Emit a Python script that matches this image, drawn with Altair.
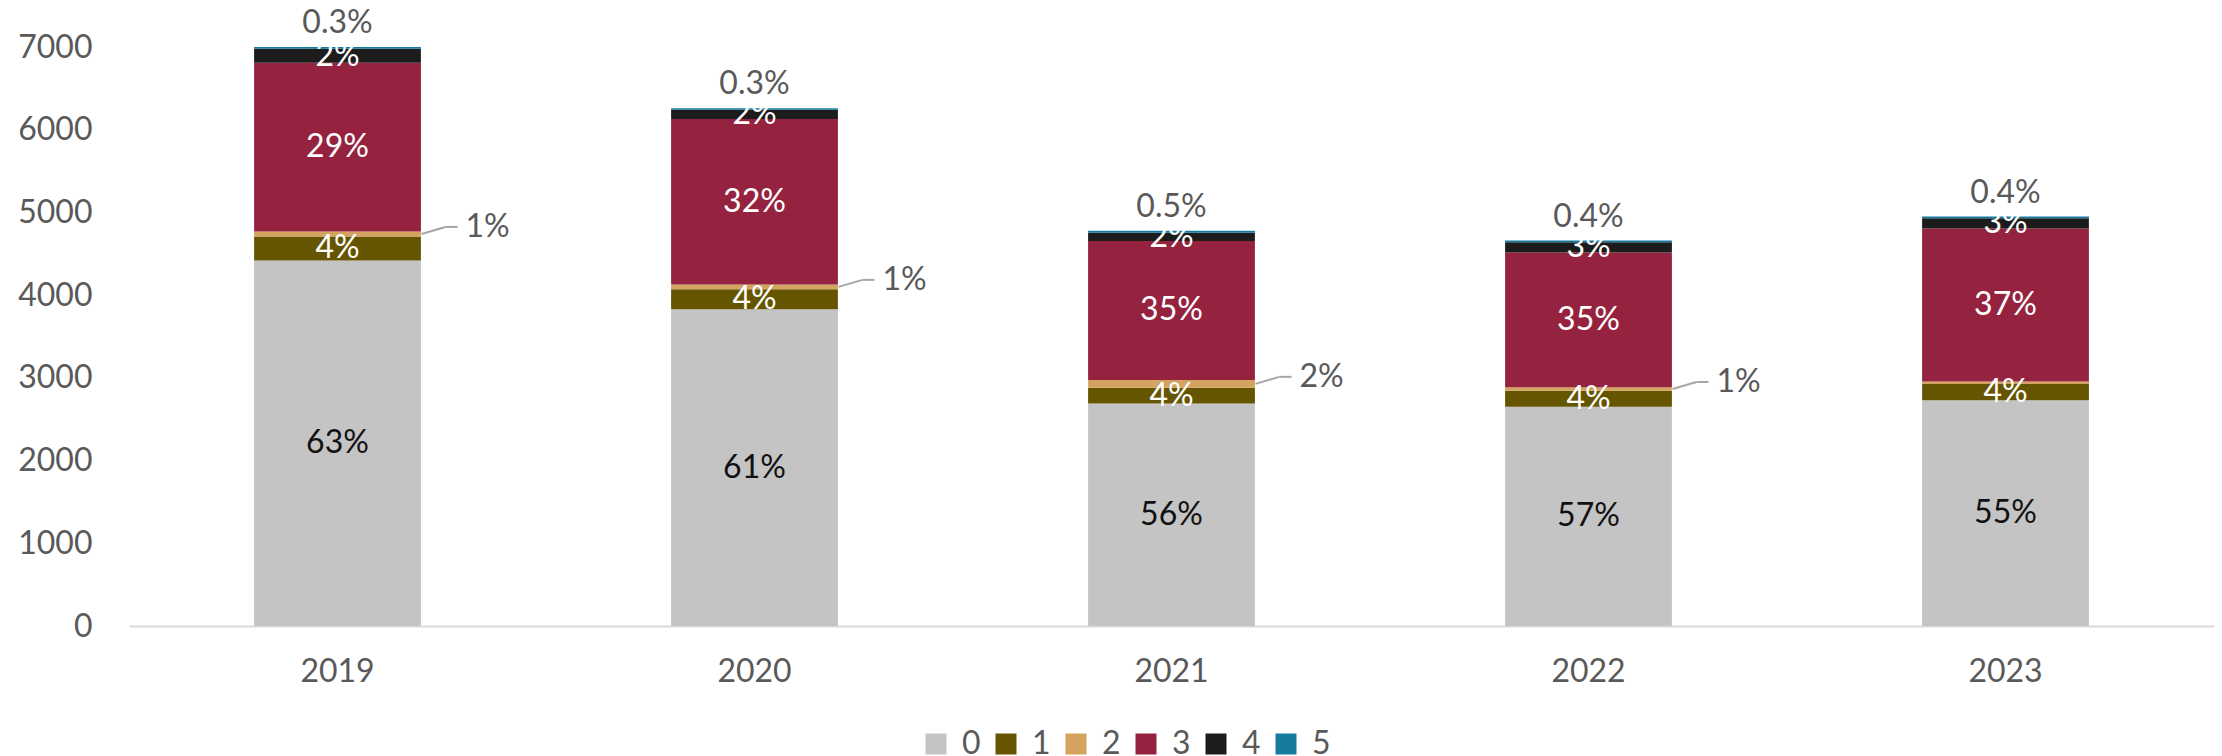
import altair as alt
import pandas as pd

years = ["2019", "2020", "2021", "2022", "2023"]
categories = ["0", "1", "2", "3", "4", "5"]
cat0 = [4420, 3830, 2690, 2650, 2730]
cat1 = [290, 240, 190, 195, 195]
cat2 = [60, 60, 95, 40, 30]
cat3 = [2040, 2000, 1680, 1630, 1850]
cat4 = [170, 110, 100, 125, 125]
cat5 = [20, 20, 25, 20, 20]
callout_years = ["2019", "2020", "2021", "2022"]
colors = ["#C4C4C4", "#655500", "#D4A35F", "#952340", "#1C1C1C", "#157B9E"]
y_ticks = [0, 1000, 2000, 3000, 4000, 5000, 6000, 7000]

series = [cat0, cat1, cat2, cat3, cat4, cat5]
rows = []
for i, yr in enumerate(years):
    total = sum(s[i] for s in series)
    cum = 0
    for c, s in zip(categories, series):
        v = s[i]
        pct = v / total
        label = f"{pct:.1%}" if c == "5" else f"{pct:.0%}"
        rows.append(dict(year=yr, cat=c, value=v, y0=cum, y1=cum + v,
                         mid=cum + v / 2, total=total, label=label))
        cum += v
df = pd.DataFrame(rows)

FONT = "Lato"
GRAY_TXT = "#595959"
FS = 32

xenc = alt.X("year:N", sort=years, title=None,
             scale=alt.Scale(paddingInner=0.6, paddingOuter=0.3),
             axis=alt.Axis(labelAngle=0, labelFont=FONT, labelFontSize=FS,
                           labelColor=GRAY_TXT, domainColor="#D9D9D9",
                           domainWidth=2, ticks=False, labelPadding=30))
yscale = alt.Scale(domain=[0, 7000], nice=False)

base = alt.Chart(df)

bars = base.mark_bar().encode(
    x=xenc,
    y=alt.Y("y0:Q", scale=yscale, title=None,
            axis=alt.Axis(values=y_ticks, format="d", labelFont=FONT, labelFontSize=FS,
                          labelColor=GRAY_TXT, domain=False, ticks=False,
                          grid=False, labelPadding=37)),
    y2="y1:Q",
    color=alt.Color("cat:N", scale=alt.Scale(domain=categories, range=colors),
                    legend=alt.Legend(title=None, orient="none", direction="horizontal",
                                      legendX=791, legendY=681, symbolType="square",
                                      symbolSize=441, symbolStrokeWidth=0,
                                      symbolOpacity=1, labelFont=FONT,
                                      labelFontSize=FS, labelColor=GRAY_TXT,
                                      labelOffset=10, columnPadding=9)),
)

inside = base.transform_filter(
    alt.FieldOneOfPredicate(field="cat", oneOf=["0", "1", "3", "4"])
).mark_text(font=FONT, fontSize=FS, baseline="middle", align="center").encode(
    x=alt.X("year:N", sort=years),
    y=alt.Y("mid:Q", scale=yscale),
    text="label:N",
    color=alt.condition(alt.datum.cat == "0", alt.value("#111111"), alt.value("#FFFFFF")),
)

c2 = base.transform_filter(alt.datum.cat == "2").transform_filter(
    alt.FieldOneOfPredicate(field="year", oneOf=callout_years))

callout_text = c2.mark_text(font=FONT, fontSize=FS, baseline="middle", align="left",
                            dx=128, dy=-7, color=GRAY_TXT).encode(
    x=alt.X("year:N", sort=years),
    y=alt.Y("mid:Q", scale=yscale),
    text="label:N",
)

leader1 = c2.mark_rule(color="#A6A6A6", strokeWidth=2, xOffset=84, x2Offset=108,
                       yOffset=0, y2Offset=-7).encode(
    x=alt.X("year:N", sort=years), x2="year:N",
    y=alt.Y("mid:Q", scale=yscale), y2="mid:Q",
)
leader2 = c2.mark_rule(color="#A6A6A6", strokeWidth=2, xOffset=108, x2Offset=120,
                       yOffset=-7, y2Offset=-7).encode(
    x=alt.X("year:N", sort=years), x2="year:N",
    y=alt.Y("mid:Q", scale=yscale), y2="mid:Q",
)

top_text = base.transform_filter(alt.datum.cat == "5").mark_text(
    font=FONT, fontSize=FS, baseline="middle", align="center", dy=-24, color=GRAY_TXT
).encode(
    x=alt.X("year:N", sort=years),
    y=alt.Y("y1:Q", scale=yscale),
    text="label:N",
)

chart = alt.layer(bars, inside, leader1, leader2, callout_text, top_text).properties(
    width=2085, height=579,
    autosize=alt.AutoSizeParams(type="none"),
    padding={"left": 129, "top": 47, "right": 8, "bottom": 130},
    background="white",
).configure_view(stroke=None)

chart.save("out.html", embed_options={"renderer": "svg", "actions": False})
